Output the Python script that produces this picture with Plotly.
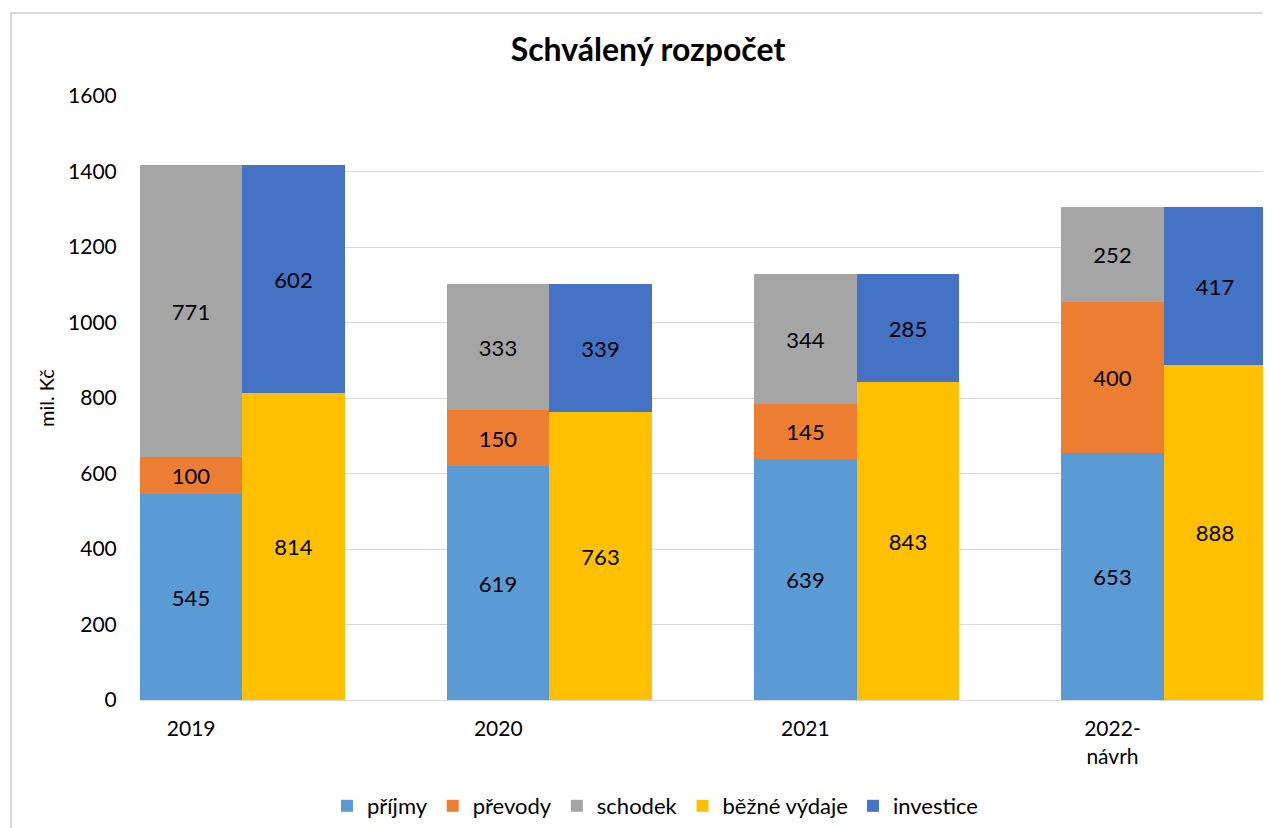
import plotly.graph_objects as go

years = ["2019", "2020", "2021", "2022-<br>návrh"]
prijmy = [545, 619, 639, 653]
prevody = [100, 150, 145, 400]
schodek = [771, 333, 344, 252]
bezne_vydaje = [814, 763, 843, 888]
investice = [602, 339, 285, 417]

colors = {
    "příjmy": "#5B9BD5",
    "převody": "#ED7D31",
    "schodek": "#A5A5A5",
    "běžné výdaje": "#FFC000",
    "investice": "#4472C4",
}

# each year occupies 3 slots: left stack, right stack, empty gap slot
left_x = [3 * i for i in range(len(years))]
right_x = [3 * i + 1 for i in range(len(years))]

FONT = "Lato, 'Open Sans', sans-serif"

fig = go.Figure()
series = [
    ("příjmy", left_x, prijmy),
    ("převody", left_x, prevody),
    ("schodek", left_x, schodek),
    ("běžné výdaje", right_x, bezne_vydaje),
    ("investice", right_x, investice),
]
for name, xs, vals in series:
    fig.add_trace(go.Bar(
        name=name, x=xs, y=vals, width=1.0,
        marker=dict(color=colors[name], line=dict(width=0)),
        text=[str(v) for v in vals], textposition="inside",
        insidetextanchor="middle", textangle=0,
        textfont=dict(color="#000000", size=22, family=FONT),
        constraintext="none",
    ))

# page body has an 8px margin; figure coordinates are compensated for it
L, T, PW, PH = 132, 88, 1126, 604
W, H = 1271, 828

fig.update_layout(
    width=W, height=H,
    barmode="relative", bargap=0,
    paper_bgcolor="white", plot_bgcolor="white",
    margin=dict(l=L, r=W - L - PW, t=T, b=H - T - PH, autoexpand=False),
    font=dict(family=FONT, size=21, color="#000000"),
    title=dict(text="<b>Schválený rozpočet</b>", x=(648 - 8) / W, xanchor="center",
               y=1 - (50 - 8) / H, yanchor="middle", yref="container",
               font=dict(size=32, family=FONT, color="#000000")),
    showlegend=True,
    legend=dict(orientation="h", x=(655 - 8 - L) / PW, xanchor="center",
                yref="container", y=1 - (806 - 8) / H, yanchor="middle",
                font=dict(size=22, family=FONT), traceorder="normal",
                itemsizing="constant", itemwidth=30, tracegroupgap=0),
    uniformtext=dict(mode=False),
)

fig.update_xaxes(
    range=[-0.5, 10.5], tickmode="array", tickvals=left_x, ticktext=years,
    showgrid=False, zeroline=False, showline=False,
    ticks="outside", ticklen=10, tickcolor="rgba(0,0,0,0)",
    tickfont=dict(size=21, family=FONT), fixedrange=True, automargin=False,
)
fig.update_yaxes(
    range=[0, 1600], dtick=200, showgrid=True, gridcolor="#D9D9D9", gridwidth=1,
    zeroline=True, zerolinecolor="#D9D9D9", zerolinewidth=1, showline=False,
    ticks="outside", ticklen=18, tickcolor="rgba(0,0,0,0)",
    tickfont=dict(size=21, family=FONT),
    title=dict(text="mil. Kč", font=dict(size=20, family=FONT), standoff=8),
    fixedrange=True, automargin=False,
)

# chart-area border (light gray) like the Excel chart frame
fig.add_shape(type="rect", xref="paper", yref="paper",
              x0=(11 - 8 - L) / PW, x1=(1300 - L) / PW,
              y0=-(860 - T - PH) / PH, y1=(T + PH - (13 - 8)) / PH,
              line=dict(color="#D9D9D9", width=2), fillcolor="rgba(0,0,0,0)", layer="below")

fig.write_html("out.html")
